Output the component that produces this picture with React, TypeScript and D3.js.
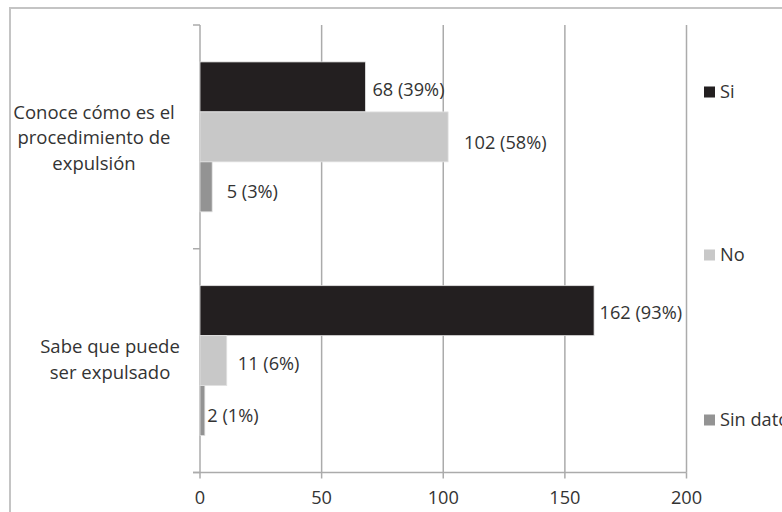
import React from "react";
import * as d3 from "d3";

const categories = ["Conoce cómo es el procedimiento de expulsión", "Sabe que puede ser expulsado"];
const categoryLines = [
  ["Conoce cómo es el", "procedimiento de", "expulsión"],
  ["Sabe que puede", "ser expulsado"],
];
const seriesNames = ["Si", "No", "Sin dato"];
const siValues = [68, 162];
const noValues = [102, 11];
const sinDatoValues = [5, 2];
const siPct = [39, 93];
const noPct = [58, 6];
const sinDatoPct = [3, 1];
const xTicks = [0, 50, 100, 150, 200];

// label nudges (layout only)
const labelDx = [
  [7, 16, 14.5],
  [5.5, 11, 2.5],
];
const labelDy = [
  [2.5, 6, 5],
  [2, 2.5, 4.5],
];
const catLabelCx = [94, 110];

const colors = ["#231f20", "#c8c8c8", "#939393"];
const textColor = "#333333";
const gridColor = "#ababab";
const FONT = "'Open Sans', sans-serif";

export default function App() {
  const W = 782;
  const H = 512;
  const x0 = 200;
  const x1 = 686.5;
  const yTop = 25;
  const yBot = 472.5;
  const fs = 18.2;

  const x = d3.scaleLinear().domain([0, 200]).range([x0, x1]);
  const y = d3.scaleBand<string>().domain(categories).range([yTop, yBot]).padding(0);
  const bw = y.bandwidth();
  const gap = bw * 0.165;
  const inner = d3.scaleBand<string>().domain(seriesNames).range([gap, bw - gap]).padding(0);

  const values = [siValues, noValues, sinDatoValues];
  const pcts = [siPct, noPct, sinDatoPct];

  const legendY = [92, 255, 420];

  return (
    <svg width={W} height={H} style={{ position: "absolute", left: 0, top: 0, background: "#fff" }} fontFamily={FONT}>
      <rect x={0} y={0} width={W} height={H} fill="#fff" />
      {/* outer frame */}
      <path d={`M10,${H + 5} V8 H${W + 5}`} fill="none" stroke="#c4c4c4" strokeWidth={2} />

      {/* gridlines */}
      {xTicks.slice(1).map((t) => (
        <line key={"g" + t} x1={x(t)} x2={x(t)} y1={yTop} y2={yBot} stroke={gridColor} strokeWidth={1.5} />
      ))}
      {/* x axis */}
      <line x1={x0 - 7} x2={x1} y1={yBot} y2={yBot} stroke={gridColor} strokeWidth={1.5} />
      {xTicks.map((t) => (
        <line key={"t" + t} x1={x(t)} x2={x(t)} y1={yBot} y2={yBot + 6} stroke={gridColor} strokeWidth={1.5} />
      ))}
      {xTicks.map((t) => (
        <text key={"l" + t} x={x(t)} y={504} textAnchor="middle" fontSize={fs} fill={textColor}>
          {t}
        </text>
      ))}

      {/* y axis */}
      <line x1={x0} x2={x0} y1={yTop} y2={yBot} stroke={gridColor} strokeWidth={1.5} />
      {[yTop, (y(categories[1]) as number), yBot].map((v, i) => (
        <line key={"yt" + i} x1={x0 - 7} x2={x0} y1={v} y2={v} stroke={gridColor} strokeWidth={1.5} />
      ))}

      {/* bars */}
      {categories.map((c, ci) =>
        seriesNames.map((s, si) => {
          const by = (y(c) as number) + (inner(s) as number);
          const bh = inner.bandwidth();
          const v = values[si][ci];
          return (
            <g key={c + s}>
              <rect x={x(0)} y={by} width={x(v) - x(0)} height={bh} fill={colors[si]} stroke="#e2e2e2" strokeWidth={0.8} />
              <text
                x={x(v) + labelDx[ci][si]}
                y={by + bh / 2 + labelDy[ci][si] + fs * 0.357}
                fontSize={fs}
                fill={textColor}
              >
                {`${v} (${pcts[si][ci]}%)`}
              </text>
            </g>
          );
        })
      )}

      {/* category labels */}
      {categories.map((c, ci) => {
        const lines = categoryLines[ci];
        const cy = (y(c) as number) + bw / 2;
        const lh = 25.5;
        const start = cy - ((lines.length - 1) * lh) / 2;
        return lines.map((ln, li) => (
          <text
            key={c + li}
            x={catLabelCx[ci]}
            y={start + li * lh + fs * 0.357 + (ci === 0 ? 1 : -1)}
            textAnchor="middle"
            fontSize={fs + 0.3}
            fill={textColor}
          >
            {ln}
          </text>
        ));
      })}

      {/* legend */}
      {seriesNames.map((s, i) => (
        <g key={"lg" + s}>
          <rect x={704} y={legendY[i] - 5.5} width={11} height={11} fill={colors[i]} />
          <text x={720} y={legendY[i] + fs * 0.357} fontSize={fs} fill={textColor}>
            {s}
          </text>
        </g>
      ))}
    </svg>
  );
}
